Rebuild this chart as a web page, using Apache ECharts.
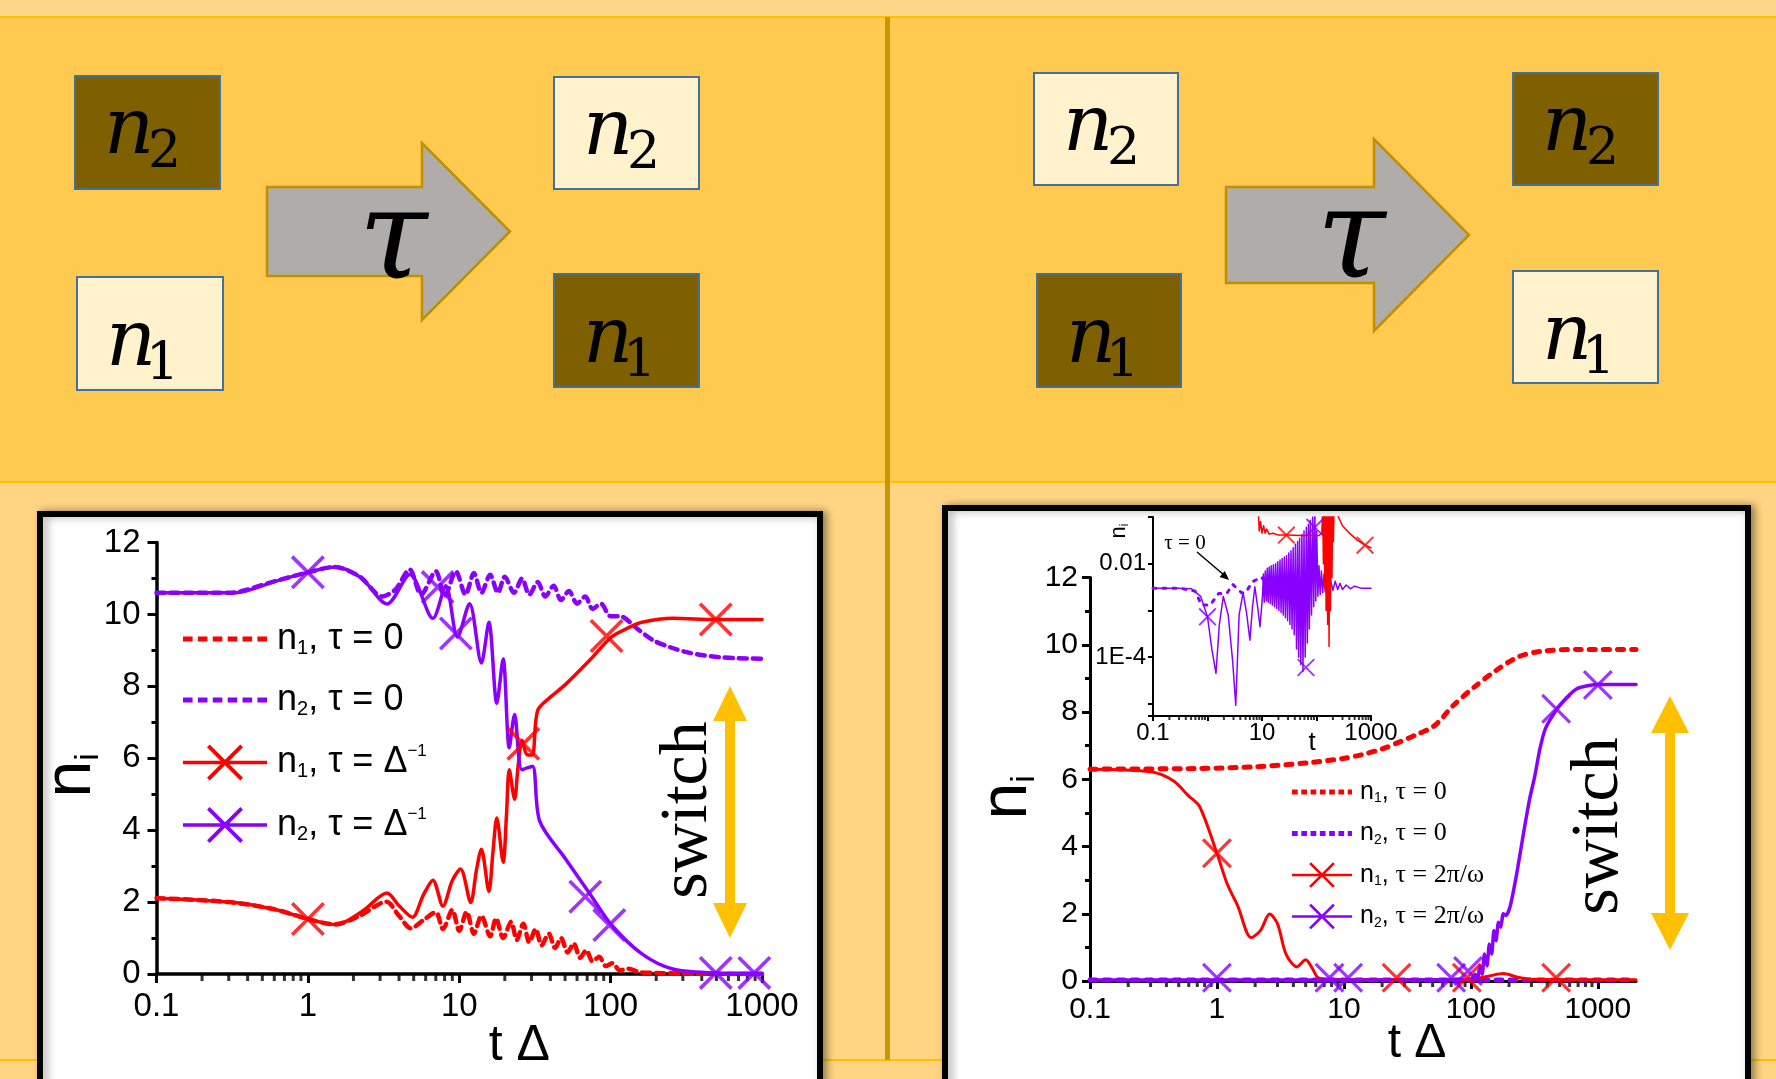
<!DOCTYPE html>
<html>
<head>
<meta charset="utf-8">
<title>switch</title>
<script src="https://cdn.jsdelivr.net/npm/echarts@6.0.0/dist/echarts.min.js"></script>
<style>
html, body { margin: 0; padding: 0; background: #FFD583; }
#chart { width: 1776px; height: 1079px; }
</style>
</head>
<body>
<div id="chart"></div>
<script>
// ---- left plot: tau = 1/Delta ----
var leftN1Tau0 = [[0.1,2.11],[0.3,2.0],[0.6,1.8],[1,1.53],[1.5,1.38],[2.2,1.62],[3.3,2.01],[4,1.62],[4.8,1.27],[5.8,1.5],[7,1.72],[7.8,1.25],[9,1.78],[10,1.2],[11.2,1.73],[12.5,1.12],[14,1.62],[16,1.05],[17.5,1.55],[19.5,1.0],[22,1.45],[24,0.95],[26.5,1.4],[29,0.88],[32,1.25],[35,0.8],[39,1.12],[43,0.72],[47,1.0],[52,0.6],[57,0.85],[63,0.45],[69,0.66],[76,0.35],[84,0.48],[93,0.22],[103,0.3],[115,0.1],[130,0.15],[156,0.05],[200,0.03],[300,0.01],[1000,0]];
var leftN2Tau0 = [[0.1,10.6],[0.3,10.6],[0.6,10.92],[1,11.17],[1.5,11.32],[2.2,11.05],[3.1,10.5],[3.8,10.7],[4.7,11.25],[5.6,10.55],[7,11.2],[8,10.5],[9.5,11.2],[11,10.55],[12.5,11.15],[14,10.6],[16,11.1],[18,10.6],[20,11.05],[23,10.6],[26,11.0],[29,10.55],[33,10.9],[37,10.5],[42,10.8],[47,10.4],[53,10.65],[60,10.3],[68,10.5],[76,10.15],[86,10.3],[100,9.95],[115,9.95],[150,9.6],[191,9.28],[250,9.08],[318,8.95],[400,8.87],[527,8.81],[700,8.78],[1000,8.77]];
var leftN1TauD = [[0.1,2.11],[0.33,1.99],[0.6,1.8],[1,1.53],[1.53,1.37],[2.3,1.75],[3.33,2.25],[4.0,1.9],[4.9,1.58],[5.8,2.2],[6.7,2.61],[7.8,1.89],[9,2.6],[10.2,2.92],[11.9,1.99],[13,2.9],[14,3.47],[15.7,2.3],[16.7,3.4],[17.7,4.34],[19.5,3.11],[20.5,4.4],[21.4,5.68],[23.2,4.86],[24.5,5.8],[26,6.5],[28,6.1],[30.4,6.09],[32.9,7.32],[40,7.7],[50,8.04],[74,8.76],[101,9.37],[130,9.62],[161,9.78],[257,9.89],[495,9.86],[1000,9.86]];
var leftN2TauD = [[0.1,10.6],[0.33,10.6],[0.61,10.92],[1,11.17],[1.53,11.32],[2.26,11.01],[3.33,10.29],[4.72,11.11],[6.7,9.89],[8.15,10.8],[9.73,9.37],[11.7,10.3],[14,8.65],[15.7,9.78],[17.7,7.53],[19.5,8.76],[21.4,6.29],[23.2,7.22],[26,5.68],[30.4,5.78],[34,4.25],[50,3.22],[74,2.19],[101,1.37],[161,0.56],[257,0.14],[495,0.03],[1000,0.02]];
var leftN1Marks = [[1,1.53],[26.5,6.4],[94,9.4],[495,9.86]];
var leftN2Marks = [[1,11.17],[7.2,10.76],[9.5,9.47],[68,2.15],[98,1.36],[495,0.03],[890,0.03]];

// ---- right plot: tau = 2pi/omega ----
var rightN1Tau0 = [[0.1,6.3],[0.73,6.32],[2,6.37],[5.2,6.49],[10,6.62],[13.8,6.73],[20,6.9],[27.5,7.11],[37,7.32],[52,7.6],[73,8.2],[108,8.76],[160,9.25],[237,9.64],[351,9.8],[695,9.86],[2000,9.86]];
var rightN2Tau0 = [[0.1,0.03],[1,0.03],[10,0.03],[100,0.03],[1000,0.03],[2000,0.03]];
var rightN1TauW = [[0.1,6.3],[0.3,6.22],[0.45,5.96],[0.6,5.5],[0.73,5.19],[1,3.8],[1.2,2.9],[1.46,2.23],[1.86,1.29],[2.2,1.5],[2.6,1.99],[3.0,1.7],[3.5,0.8],[4.27,0.42],[5.0,0.63],[5.6,0.4],[6.3,0.09],[8,0.05],[20,0.04],[60,0.04],[100,0.05],[140,0.15],[180,0.22],[230,0.12],[300,0.05],[1000,0.04],[2000,0.04]];
var rightN2TauW = [[0.1,0.03],[1,0.03],[10,0.03],[100,0.05],[108,0.2],[113,0.05],[118,0.45],[123,0.2],[128,0.8],[134,0.45],[140,1.1],[146,0.8],[152,1.5],[158,1.2],[165,1.75],[172,1.6],[180,2.0],[190,1.95],[205,2.25],[230,3.2],[261,4.43],[290,5.4],[318,6.07],[350,6.9],[386,7.5],[470,8.05],[560,8.4],[693,8.7],[1000,8.82],[2000,8.82]];
var rightN1Marks = [[1,3.8],[26,0.1],[93,0.1],[470,0.1]];
var rightN2Marks = [[1,0.1],[7.7,0.1],[10.8,0.1],[70,0.1],[95,0.3],[470,8.1],[1000,8.8]];

// ---- inset of right plot (log scale) ----
var insetN2Tau0 = [[0.1,0.003],[0.3,0.003],[0.59,0.0026],[0.78,0.0013],[1.12,0.0013],[1.6,0.0023],[2.25,0.0023],[2.9,0.0036],[4.2,0.0024],[5.0,0.0024],[6.7,0.0041],[9.8,0.0052],[15,0.0024],[20,0.004],[26,0.003]];
var insetN2TauW = [[0.1,0.003],[0.3,0.003],[0.51,0.0029],[0.75,0.002],[1,0.00073],[1.2,0.00015],[1.43,0.000045],[1.65,0.0005],[1.95,0.002],[2.4,0.0008],[2.9,0.00008],[3.3,0.0000093],[3.8,0.0008],[4.5,0.0024],[5.2,0.0009],[6.0,0.00023],[6.7,0.0012],[7.4,0.0032],[8.3,0.0012],[9.2,0.00045],[10.2,0.002],[10.6,0.006],[11,0.0015],[11.5,0.007],[12,0.0016],[12.5,0.008],[13,0.0015],[13.6,0.0085],[14.2,0.0014],[14.8,0.009],[15.5,0.0013],[16.2,0.0095],[17,0.0012],[17.8,0.01],[18.6,0.0011],[19.5,0.011],[20.4,0.001],[21.4,0.012],[22.4,0.0009],[23.4,0.013],[24.5,0.0008],[25.7,0.014],[26.9,0.0007],[28.2,0.015],[29.5,0.0006],[31,0.017],[32.5,0.0005],[34,0.019],[35.6,0.0004],[37.3,0.022],[39,0.0003],[41,0.026],[43,0.00015],[45,0.03],[47,0.0001],[49,0.035],[51.5,0.00007],[54,0.042],[56.5,0.00005],[59,0.05],[62,0.0001],[65,0.06],[68,0.0002],[71,0.07],[74,0.0004],[77,0.085],[81,0.0008],[85,0.1],[89,0.0012],[93,0.15],[97,0.0016],[101,0.05],[106,0.002],[111,0.009],[117,0.0022],[123,0.007],[130,0.0024],[137,0.006],[145,0.0025],[155,0.005],[165,0.0026],[180,0.0045],[200,0.0027],[220,0.0042],[245,0.0028],[270,0.0038],[300,0.0028],[350,0.0035],[420,0.0029],[500,0.0033],[650,0.003],[1000,0.003]];
var insetN1TauW = [[8.5,0.15],[8.9,0.05],[9.4,0.08],[10,0.045],[10.7,0.065],[11.4,0.045],[12.2,0.055],[13.5,0.043],[16,0.045],[20,0.041],[30,0.041],[50,0.04],[80,0.04],[110,0.04],[125,0.045],[130,0.15],[134,0.01],[138,0.15],[142,0.003],[146,0.15],[150,0.001],[155,0.15],[160,0.0005],[165,0.15],[170,0.00017],[175,0.15],[180,0.001],[186,0.15],[192,0.005],[198,0.15],[204,0.03],[210,0.15],[234,0.12],[300,0.065],[412,0.044],[560,0.032],[777,0.025],[1000,0.022]];
var insetN1Marks = [[28,0.041],[777,0.025]];
var insetN2Marks = [[1,0.00073],[64,0.00006],[93,0.06]];

// tick labels, keyed by decade exponent
var mainXLabels = {'-1': '0.1', '0': '1', '1': '10', '2': '100', '3': '1000'};
var insetXLabels = {'-1': '0.1', '1': '10', '3': '1000'};
var insetYLabels = {'-2': '0.01', '-4': '1E-4'};

var RED = '#FF0000';
var PURPLE = '#8A00FF';
var BLACK = '#000';
var SANS = '"Liberation Sans", Arial, sans-serif';
var SERIF = '"Liberation Serif", "Times New Roman", serif';
var MATH = '"DejaVu Serif", serif';

var X_MARK = 'path://M1.5,0L20,18.5L18.5,20L0,1.5Z M0,18.5L18.5,0L20,1.5L1.5,20Z';
var X_LINE_ICON = 'path://M0,16.2L84,16.2L84,19.8L0,19.8Z M26.7,0L60,33.3L57.3,36L24,2.7Z M24,33.3L57.3,0L60,2.7L26.7,36Z';

function dashIcon(th, dash, gap) {
	var p = '';
	var y0 = 18 - th / 2, y1 = 18 + th / 2;
	for (var x = 0; x < 84; x += dash + gap) {
		var x1 = Math.min(84, x + dash);
		p += 'M' + x + ',' + y0 + 'L' + x1 + ',' + y0 + 'L' + x1 + ',' + y1 + 'L' + x + ',' + y1 + 'Z ';
	}
	return 'path://' + p;
}

function logLabel(map) {
	return function (v) {
		var k = Math.log10(v);
		var r = Math.round(k);
		if (Math.abs(k - r) > 1e-6) return '';
		return map[r] !== undefined ? map[r] : '';
	};
}

// minor ticks of a log axis (2..9 of each decade), drawn as small marks on the x axis
function logMinorTicks(lo, hi, yAt) {
	var pts = [];
	for (var e = -1; e <= 3; e++) {
		for (var k = 2; k <= 9; k++) {
			var v = k * Math.pow(10, e);
			if (v > lo && v < hi) pts.push([v, yAt]);
		}
	}
	return pts;
}

function lineSeries(name, data, grid, color, width, dash, smooth) {
	return {
		name: name, type: 'line', xAxisIndex: grid, yAxisIndex: grid, data: data,
		symbol: 'none', showSymbol: false, smooth: smooth || false,
		lineStyle: { color: color, width: width, type: dash || 'solid', cap: 'round', join: 'round' },
		itemStyle: { color: color }, emphasis: { disabled: true }, z: 3
	};
}

function markSeries(data, grid, color, size) {
	return {
		type: 'scatter', xAxisIndex: grid, yAxisIndex: grid, data: data,
		symbol: X_MARK, symbolSize: size, itemStyle: { color: color },
		silent: true, emphasis: { disabled: true }, z: 4
	};
}

function tickSeries(data, grid, size) {
	return {
		type: 'scatter', xAxisIndex: grid, yAxisIndex: grid, data: data,
		symbol: 'rect', symbolSize: size, symbolOffset: [0, size[1] / 2],
		itemStyle: { color: BLACK }, silent: true, clip: false, z: 2
	};
}

function axisStyle(lw, tickLen, tickW, fontSize, margin) {
	return {
		axisLine: { show: true, onZero: false, lineStyle: { color: BLACK, width: lw } },
		axisTick: { show: true, inside: false, length: tickLen, lineStyle: { color: BLACK, width: tickW } },
		axisLabel: { show: true, color: BLACK, fontFamily: SANS, fontSize: fontSize, margin: margin, showMinLabel: true, showMaxLabel: true },
		splitLine: { show: false },
		nameMoveOverlap: false
	};
}

function merge(a, b) {
	for (var k in b) a[k] = b[k];
	return a;
}

var chart = echarts.init(document.getElementById('chart'), null, { renderer: 'canvas' });

var xAxes = [
	merge(axisStyle(3.5, 9, 3, 33, 16), {
		gridIndex: 0, type: 'log', logBase: 10, min: 0.1, max: 1000,
		name: 't Δ', nameLocation: 'middle', nameGap: 47,
		nameTextStyle: { fontFamily: SANS, fontSize: 50, color: BLACK, padding: [0, 0, 0, 120] }
	}),
	merge(axisStyle(3, 8, 3, 30, 14), {
		gridIndex: 1, type: 'log', logBase: 10, min: 0.1, max: 2000,
		name: 't Δ', nameLocation: 'middle', nameGap: 39,
		nameTextStyle: { fontFamily: SANS, fontSize: 48, color: BLACK, padding: [0, 0, 0, 108] }
	}),
	merge(axisStyle(2, 5, 2, 24, 5), {
		gridIndex: 2, type: 'log', logBase: 10, min: 0.1, max: 1000,
		name: 't', nameLocation: 'middle', nameGap: 14,
		nameTextStyle: { fontFamily: SANS, fontSize: 26, color: BLACK, padding: [0, 0, 0, 100] }
	})
];
xAxes[0].axisLabel.formatter = logLabel(mainXLabels);
xAxes[1].axisLabel.formatter = logLabel(mainXLabels);
xAxes[1].axisLabel.showMaxLabel = false;
xAxes[2].axisLabel.formatter = logLabel(insetXLabels);

var yName = function (size, sub, pad, shift) {
	return {
		fontFamily: SANS, fontSize: size, color: BLACK, padding: [0, shift, 0, 0],
		rich: { s: { fontFamily: SANS, fontSize: sub, color: BLACK, padding: [pad, 0, 0, 0] } }
	};
};

var yAxes = [
	merge(axisStyle(3.5, 9, 3, 33, 16), {
		gridIndex: 0, type: 'value', min: 0, max: 12, interval: 2,
		minorTick: { show: true, splitNumber: 2, length: 5, lineStyle: { color: BLACK, width: 3 } },
		minorSplitLine: { show: false },
		name: 'n{s|i}', nameLocation: 'middle', nameGap: 51, nameTextStyle: yName(66, 34, 34, 34)
	}),
	merge(axisStyle(3, 8, 3, 30, 12), {
		gridIndex: 1, type: 'value', min: 0, max: 12, interval: 2,
		minorTick: { show: true, splitNumber: 2, length: 5, lineStyle: { color: BLACK, width: 3 } },
		minorSplitLine: { show: false },
		name: 'n{s|i}', nameLocation: 'middle', nameGap: 48, nameTextStyle: yName(66, 34, 34, 36)
	}),
	merge(axisStyle(2, 5, 2, 24, 7), {
		gridIndex: 2, type: 'log', logBase: 10, min: 0.0000055, max: 0.1
	})
];
yAxes[2].axisLabel.formatter = logLabel(insetYLabels);

var leftLegendText = {
	L1: 'n{s|1}, τ = 0',
	L2: 'n{s|2}, τ = 0',
	L3: 'n{s|1}, τ = Δ{p|−1}',
	L4: 'n{s|2}, τ = Δ{p|−1}'
};
var rightLegendText = {
	R1: 'n{s|1}, {t|τ = 0}',
	R2: 'n{s|2}, {t|τ = 0}',
	R3: 'n{s|1}, {t|τ = 2π/ω}',
	R4: 'n{s|2}, {t|τ = 2π/ω}'
};

var series = [
	lineSeries('L1', leftN1Tau0, 0, RED, 4.5, [8, 6], 0.3),
	lineSeries('L2', leftN2Tau0, 0, PURPLE, 4.5, [8, 6], 0.3),
	lineSeries('L3', leftN1TauD, 0, RED, 3.5, null, 0.3),
	lineSeries('L4', leftN2TauD, 0, PURPLE, 3.5, null, 0.3),
	markSeries(leftN1Marks, 0, RED, 34),
	markSeries(leftN2Marks, 0, PURPLE, 34),
	tickSeries(logMinorTicks(0.1, 1000, 0), 0, [3, 7]),

	lineSeries('R1', rightN1Tau0, 1, RED, 5, [6, 8], 0.3),
	lineSeries('R2', rightN2Tau0, 1, PURPLE, 5, [6, 8]),
	lineSeries('R3', rightN1TauW, 1, RED, 3, null, 0.3),
	lineSeries('R4', rightN2TauW, 1, PURPLE, 3.5, null, 0.2),
	markSeries(rightN1Marks, 1, RED, 30),
	markSeries(rightN2Marks, 1, PURPLE, 30),
	tickSeries(logMinorTicks(0.1, 2000, 0), 1, [3, 6]),

	lineSeries('I1', insetN2Tau0, 2, PURPLE, 3, [3, 7]),
	lineSeries('I2', insetN2TauW, 2, PURPLE, 1.5),
	lineSeries('I3', insetN1TauW, 2, RED, 1.5),
	markSeries(insetN1Marks, 2, RED, 18),
	markSeries(insetN2Marks, 2, PURPLE, 18),
	tickSeries(logMinorTicks(0.1, 1000, 0.0000055), 2, [2, 4])
];

function box(x, y, w, h, dark) {
	return {
		type: 'rect', z: 1, shape: { x: x, y: y, width: w, height: h },
		style: { fill: dark ? '#7F6000' : '#FFF2CC', stroke: '#41719C', lineWidth: 2 }
	};
}

// n with subscript inside a box; low = true for the n1 boxes (text sits lower)
function nLabel(x, y, digit, low) {
	var dy = low ? 11 : 0;
	return [{
		type: 'text', z: 2,
		style: { text: 'n', x: x + 29, y: y + 57 + dy, fontFamily: MATH, fontStyle: 'italic', fontSize: 78, fill: BLACK, textAlign: 'left', align: 'left', textVerticalAlign: 'middle', verticalAlign: 'middle' }
	}, {
		type: 'text', z: 2,
		style: { text: digit, x: x + (digit === '1' ? 69 : 73), y: y + 77 + dy, fontFamily: MATH, fontSize: 52, fill: BLACK, textAlign: 'left', align: 'left', textVerticalAlign: 'middle', verticalAlign: 'middle' }
	}];
}

function bigArrow(x0, x1, x2, yTop, yBot, hTop, hBot) {
	var tipY = (hTop + hBot) / 2;
	return {
		type: 'polygon', z: 1,
		shape: { points: [[x0, yTop], [x1, yTop], [x1, hTop], [x2, tipY], [x1, hBot], [x1, yBot], [x0, yBot]] },
		style: { fill: '#AFACAA', stroke: '#BF9000', lineWidth: 2.5 }
	};
}

function tau(x, y) {
	return {
		type: 'text', z: 2,
		style: { text: 'τ', x: x, y: y, fontFamily: MATH, fontStyle: 'italic', fontSize: 125, fill: BLACK, textAlign: 'center', align: 'center', textVerticalAlign: 'middle', verticalAlign: 'middle' }
	};
}

function switchArrow(cx, y0, y1, hw, hh) {
	return {
		type: 'polygon', z: 10,
		shape: { points: [[cx - hw, y0 + hh], [cx, y0], [cx + hw, y0 + hh], [cx + 5, y0 + hh], [cx + 5, y1 - hh], [cx + hw, y1 - hh], [cx, y1], [cx - hw, y1 - hh], [cx - 5, y1 - hh], [cx - 5, y0 + hh]] },
		style: { fill: '#FFC000' }
	};
}

function switchText(x, y) {
	return {
		type: 'text', z: 10, x: x, y: y, rotation: Math.PI / 2,
		style: { text: 'switch', x: 0, y: 0, fontFamily: SERIF, fontSize: 68, fill: BLACK, textAlign: 'center', align: 'center', textVerticalAlign: 'middle', verticalAlign: 'middle' }
	};
}

var graphics = [
	{ type: 'rect', z: -10, shape: { x: 0, y: 0, width: 1776, height: 17 }, style: { fill: '#FFD78B' } },
	{ type: 'rect', z: -10, shape: { x: 0, y: 17, width: 1776, height: 465 }, style: { fill: '#FFCA4F' } },
	{ type: 'line', z: -9, shape: { x1: 0, y1: 17, x2: 1776, y2: 17 }, style: { stroke: '#FFC000', lineWidth: 2 } },
	{ type: 'line', z: -9, shape: { x1: 0, y1: 482, x2: 1776, y2: 482 }, style: { stroke: '#FFC000', lineWidth: 2 } },
	{ type: 'line', z: -9, shape: { x1: 0, y1: 1060, x2: 1776, y2: 1060 }, style: { stroke: '#FFC000', lineWidth: 2 } },
	{ type: 'rect', z: -9, shape: { x: 885, y: 17, width: 5, height: 1043 }, style: { fill: '#C99700' } },
	{ type: 'rect', z: -5, shape: { x: 40, y: 514, width: 780, height: 620 }, style: { fill: '#FFFFFF', stroke: BLACK, lineWidth: 6, shadowBlur: 8, shadowColor: 'rgba(0,0,0,0.35)', shadowOffsetX: 4 } },
	{ type: 'rect', z: -5, shape: { x: 945, y: 508, width: 803, height: 620 }, style: { fill: '#FFFFFF', stroke: BLACK, lineWidth: 6, shadowBlur: 8, shadowColor: 'rgba(0,0,0,0.35)', shadowOffsetX: 4 } },

	// left diagram
	box(75, 76, 145, 113, true), box(77, 277, 146, 113, false),
	box(554, 77, 145, 112, false), box(554, 274, 145, 113, true),
	bigArrow(267, 422, 510, 187, 276, 143, 320), tau(393, 246),
	// right diagram
	box(1034, 73, 144, 112, false), box(1037, 274, 144, 113, true),
	box(1513, 73, 145, 112, true), box(1513, 271, 145, 112, false),
	bigArrow(1226, 1374, 1469, 187, 283, 139, 331), tau(1351, 245),

	switchArrow(730, 686, 938, 17, 35), switchText(688, 810),
	switchArrow(1670, 696, 950, 19, 37), switchText(1599, 826),

	// inset annotation
	{ type: 'text', z: 10, style: { text: 'τ = 0', x: 1185, y: 543, fontFamily: SERIF, fontSize: 21, fill: BLACK, textAlign: 'center', align: 'center', textVerticalAlign: 'middle', verticalAlign: 'middle' } },
	{ type: 'line', z: 10, shape: { x1: 1197, y1: 552, x2: 1224, y2: 575 }, style: { stroke: BLACK, lineWidth: 1.5 } },
	{ type: 'polygon', z: 10, shape: { points: [[1229, 580], [1219.6, 577.1], [1224.8, 571.1]] }, style: { fill: BLACK } },
	{ type: 'text', z: 10, x: 1119, y: 531, rotation: Math.PI / 2,
		style: { text: 'n{s|i}', x: 0, y: 0, fontFamily: SANS, fontSize: 22, fill: BLACK, textAlign: 'center', align: 'center', textVerticalAlign: 'middle', verticalAlign: 'middle',
			rich: { s: { fontFamily: SANS, fontSize: 12, fill: BLACK, padding: [12, 0, 0, 0] } } } }
];
[nLabel(75, 76, '2', false), nLabel(77, 277, '1', true), nLabel(554, 77, '2', false), nLabel(554, 274, '1', true),
 nLabel(1034, 73, '2', false), nLabel(1037, 274, '1', true), nLabel(1513, 73, '2', false), nLabel(1513, 271, '1', true)]
	.forEach(function (pair) { graphics.push(pair[0], pair[1]); });

var option = {
	animation: false,
	backgroundColor: '#FFD583',
	grid: [
		{ left: 156.5, top: 542.5, width: 605.5, height: 431.5, containLabel: false, outerBoundsMode: 'none' },
		{ left: 1090, top: 577.5, width: 546, height: 403.5, containLabel: false, outerBoundsMode: 'none' },
		{ left: 1153, top: 517, width: 218, height: 199, containLabel: false, outerBoundsMode: 'none' }
	],
	xAxis: xAxes,
	yAxis: yAxes,
	legend: [{
		left: 178, top: 616, orient: 'vertical', itemWidth: 84, itemHeight: 36, itemGap: 24,
		selectedMode: false, itemStyle: { borderWidth: 0 },
		formatter: function (name) { return leftLegendText[name]; },
		textStyle: {
			fontFamily: SANS, fontSize: 36, color: BLACK, padding: [0, 0, 0, 5],
			rich: {
				s: { fontFamily: SANS, fontSize: 20, color: BLACK, padding: [18, 0, 0, 0] },
				p: { fontFamily: SANS, fontSize: 17, color: BLACK, padding: [0, 0, 22, 0] }
			}
		},
		data: [
			{ name: 'L1', icon: dashIcon(4.5, 9, 5) },
			{ name: 'L2', icon: dashIcon(4.5, 9, 5) },
			{ name: 'L3', icon: X_LINE_ICON },
			{ name: 'L4', icon: X_LINE_ICON }
		]
	}, {
		left: 1287, top: 774, orient: 'vertical', itemWidth: 60, itemHeight: 28, itemGap: 15,
		selectedMode: false, itemStyle: { borderWidth: 0 },
		formatter: function (name) { return rightLegendText[name]; },
		textStyle: {
			fontFamily: SANS, fontSize: 25, color: BLACK, padding: [0, 0, 0, 3],
			rich: {
				s: { fontFamily: SANS, fontSize: 14, color: BLACK, padding: [13, 0, 0, 0] },
				t: { fontFamily: SERIF, fontSize: 26, color: BLACK }
			}
		},
		data: [
			{ name: 'R1', icon: dashIcon(7, 8, 5) },
			{ name: 'R2', icon: dashIcon(7, 8, 5) },
			{ name: 'R3', icon: X_LINE_ICON },
			{ name: 'R4', icon: X_LINE_ICON }
		]
	}],
	graphic: { elements: graphics },
	series: series
};

chart.setOption(option);
</script>
</body>
</html>
